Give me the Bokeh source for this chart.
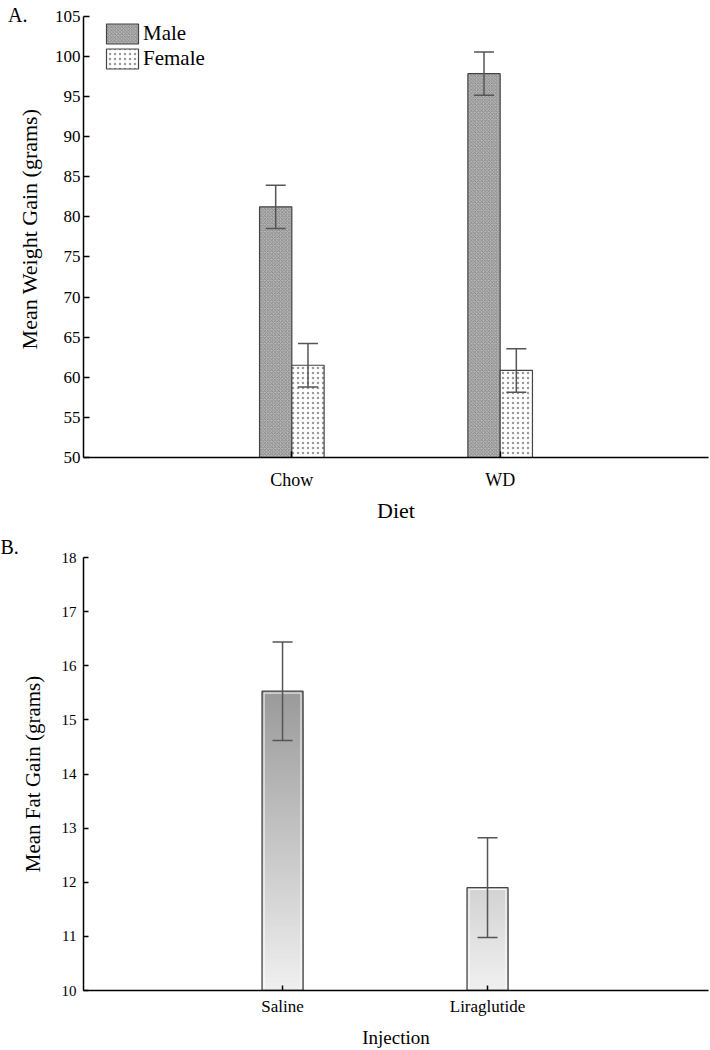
import numpy as np
from bokeh.plotting import figure
from bokeh.layouts import column
from bokeh.models import (ColumnDataSource, Whisker, TeeHead, FixedTicker, Range1d,
                          Legend, LegendItem, Title, LinearAxis)
from bokeh.embed import file_html
from bokeh.resources import INLINE

# ---------------- data ----------------
diets = ["Chow", "WD"]
male_gain = [81.25, 97.85]
male_err = [2.7, 2.7]
female_gain = [61.5, 60.85]
female_err = [2.7, 2.7]

injections = ["Saline", "Liraglutide"]
fat_gain = [15.53, 11.9]
fat_err = [0.91, 0.92]

FONT = "Liberation Serif"


def style_axes(p, ytick_size, xtick_size, ylabel_size, xlabel_size):
    for ax in (p.xaxis[0], p.yaxis[0]):
        ax.axis_line_width = 1.5
        ax.axis_line_color = "black"
        ax.major_tick_line_color = "black"
        ax.major_tick_line_width = 1.5
        ax.major_tick_out = 0
        ax.major_tick_in = 6
        ax.minor_tick_line_color = None
        ax.major_label_text_font = FONT
        ax.axis_label_text_font = FONT
        ax.axis_label_text_font_style = "normal"
        ax.major_label_text_color = "black"
        ax.axis_label_text_color = "black"
    p.yaxis[0].major_label_text_font_size = ytick_size
    p.xaxis[0].major_label_text_font_size = xtick_size
    p.yaxis[0].axis_label_text_font_size = ylabel_size
    p.xaxis[0].axis_label_text_font_size = xlabel_size
    p.xgrid.grid_line_color = None
    p.ygrid.grid_line_color = None
    p.outline_line_color = None


def whisker(src):
    return Whisker(source=src, base="x", upper="up", lower="lo", level="annotation",
                   line_color="#555555", line_width=1.5,
                   upper_head=TeeHead(size=20, line_color="#555555", line_width=1.5),
                   lower_head=TeeHead(size=20, line_color="#555555", line_width=1.5))


# ---------------- panel A ----------------
Y_TOP = 105
y_ticks = list(range(50, Y_TOP + 1, 5))
p1 = figure(width=710, height=525, output_backend="svg", toolbar_location=None,
            x_range=Range1d(0, 3), y_range=Range1d(50, Y_TOP + 16 * 55 / 446),
            min_border_left=83, min_border_right=2, min_border_top=0,
            min_border_bottom=63)
p1.background_fill_color = "white"
p1.border_fill_color = "white"

xs = np.arange(1, len(diets) + 1)
bw = 0.155
src_m = ColumnDataSource(dict(x=xs - bw / 2, top=male_gain,
                              up=np.array(male_gain) + np.array(male_err),
                              lo=np.array(male_gain) - np.array(male_err)))
src_f = ColumnDataSource(dict(x=xs + bw / 2, top=female_gain,
                              up=np.array(female_gain) + np.array(female_err),
                              lo=np.array(female_gain) - np.array(female_err)))

rm = p1.vbar(x="x", top="top", bottom=50, width=bw, source=src_m,
             fill_color="#b5b5b5", line_color="#444444", line_width=1.2,
             hatch_pattern="diagonal_cross", hatch_scale=3.5, hatch_color="#7e7e7e",
             hatch_weight=0.8)
rf = p1.vbar(x="x", top="top", bottom=50, width=bw, source=src_f,
             fill_color="white", line_color="#444444", line_width=1.2,
             hatch_pattern="dot", hatch_scale=5, hatch_color="#9a9a9a", hatch_weight=1)

p1.add_layout(whisker(src_m))
p1.add_layout(whisker(src_f))

p1.xaxis.ticker = FixedTicker(ticks=list(xs))
p1.xaxis.major_label_overrides = {int(i): d for i, d in zip(xs, diets)}
p1.yaxis.ticker = FixedTicker(ticks=y_ticks)
p1.yaxis.bounds = (50, Y_TOP)
p1.xaxis.axis_label = "Diet"
p1.yaxis.axis_label = "Mean Weight Gain (grams)"
style_axes(p1, "17px", "18px", "22px", "22px")
p1.xaxis.major_label_standoff = 12
p1.xaxis.axis_label_standoff = 5
p1.yaxis.major_label_standoff = 3
p1.yaxis.axis_label_standoff = 10

# panel tag "A." carried by a bare outer axis (one labelled tick above the data range)
tag_axis = LinearAxis(ticker=FixedTicker(ticks=[Y_TOP + 1]),
                      major_label_overrides={Y_TOP + 1: "A."},
                      axis_line_color=None, major_tick_line_color=None,
                      minor_tick_line_color=None, major_label_standoff=-20,
                      major_label_text_font=FONT, major_label_text_font_size="20px",
                      major_label_text_color="black")
p1.add_layout(tag_axis, "left")

legend = Legend(items=[LegendItem(label="Male", renderers=[rm]),
                       LegendItem(label="Female", renderers=[rf])],
                location=(19, 386), orientation="vertical",
                border_line_color=None, background_fill_alpha=0,
                padding=0, margin=0, spacing=0, glyph_width=40, glyph_height=25,
                label_height=25, label_standoff=1,
                label_text_font=FONT, label_text_font_size="21px",
                label_text_color="black")
p1.add_layout(legend, "center")

# ---------------- panel B ----------------
p2 = figure(width=710, height=525, output_backend="svg", toolbar_location=None,
            x_range=Range1d(0.029, 3.078), y_range=Range1d(10, 18),
            min_border_left=83, min_border_right=2, min_border_top=32,
            min_border_bottom=60)
p2.background_fill_color = "white"
p2.border_fill_color = "white"

xb = np.arange(1, len(injections) + 1)
bw2 = 0.2
# vertical gradient fill: nested quads from the axis floor, tallest first
L, R, B, T, C = [], [], [], [], []
for xc, v in zip(xb, fat_gain):
    edges = np.linspace(10, v, 150)[1:][::-1]
    for yt in edges:
        g = int(round(240 - 15.5 * (yt - 10)))
        g = max(0, min(255, g))
        L.append(xc - bw2 / 2); R.append(xc + bw2 / 2)
        B.append(10); T.append(yt)
        C.append("#%02x%02x%02x" % (g, g, g))
p2.quad(left=L, right=R, bottom=B, top=T, fill_color=C, line_color=None)
src_b = ColumnDataSource(dict(x=xb, top=fat_gain,
                              inner_top=np.array(fat_gain) - 0.035,
                              up=np.array(fat_gain) + np.array(fat_err),
                              lo=np.array(fat_gain) - np.array(fat_err)))
# thin white inner rim, then the dark outline
p2.vbar(x="x", top="inner_top", bottom=10, width=bw2 - 0.02, source=src_b,
        fill_color=None, line_color="white", line_width=1, line_alpha=0.9)
p2.vbar(x="x", top="top", bottom=10, width=bw2, source=src_b,
        fill_color=None, line_color="#444444", line_width=1.3)
p2.add_layout(whisker(src_b))

p2.xaxis.ticker = FixedTicker(ticks=list(xb))
p2.xaxis.major_label_overrides = {int(i): d for i, d in zip(xb, injections)}
p2.yaxis.ticker = FixedTicker(ticks=list(range(10, 19)))
p2.xaxis.axis_label = "Injection"
p2.yaxis.axis_label = "Mean Fat Gain (grams)"
style_axes(p2, "15px", "17px", "21px", "19px")
p2.xaxis.major_label_standoff = 6
p2.xaxis.axis_label_standoff = 8
p2.yaxis.major_label_standoff = 7
p2.yaxis.axis_label_standoff = 14
p2.yaxis.major_tick_in = 5
p2.xaxis.major_tick_in = 5

# panel tag "B." as a left-aligned title pulled to the page edge
p2.add_layout(Title(text="B.", align="left", offset=-83, standoff=0,
                    text_font=FONT, text_font_size="20px", text_font_style="normal",
                    text_color="black"), "above")

layout = column(p1, p2, spacing=0)
open("out.html", "w").write(file_html(layout, INLINE))
